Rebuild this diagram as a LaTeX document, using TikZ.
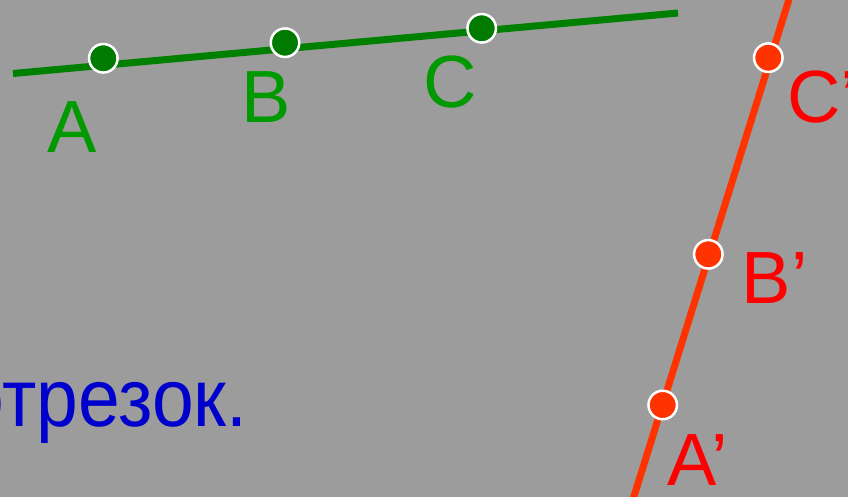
\documentclass[tikz,border=0pt]{standalone}
\usepackage{fontspec}
\setmainfont{Liberation Sans}
\newfontfamily\narrowsans[FakeStretch=0.915]{Liberation Sans}
\definecolor{bggray}{HTML}{9C9C9C}
\definecolor{gline}{HTML}{008000}
\definecolor{gpt}{HTML}{007A00}
\definecolor{gtxt}{HTML}{009900}
\definecolor{rline}{HTML}{FF3300}
\definecolor{rtxt}{HTML}{FF0000}
\definecolor{btxt}{HTML}{0000CC}
\begin{document}
\begin{tikzpicture}[x=1pt,y=-1pt,
  ptg/.style={circle,draw=white,line width=2.5pt,fill=gpt,minimum size=28.5pt,inner sep=0pt},
  ptr/.style={circle,draw=white,line width=2.5pt,fill=rline,minimum size=28.5pt,inner sep=0pt},
  lblg/.style={anchor=base west,inner sep=0pt,text=gtxt,font=\fontsize{74}{74}\selectfont},
  lblr/.style={anchor=base west,inner sep=0pt,text=rtxt,font=\fontsize{74}{74}\selectfont},
  gl/.style={draw=gline,line width=7pt},
  rl/.style={draw=rline,line width=7pt}]
\useasboundingbox (0,0) rectangle (848,497);
\clip (0,0) rectangle (848,497);
\fill[bggray] (0,0) rectangle (848,497);
% green line
\coordinate (g1) at (13,73.5);
\coordinate (g2) at (678,13);
\draw[gl] (g1) -- (g2);
% red line
\coordinate (r1) at (632.8,500);
\coordinate (r2) at (789.7,-3);
\draw[rl] (r1) -- (r2);
% points
\node[ptg] (A) at (103.3,58.3) {};
\node[ptg] (B) at (285,42.7) {};
\node[ptg] (C) at (481.7,28.3) {};
\node[ptr] (A1) at (662.7,405) {};
\node[ptr] (B1) at (708.3,254.3) {};
\node[ptr] (C1) at (768.3,57.7) {};
% labels
\node[lblg] (lA) at (47,152.5) {A};
\node[lblg] (lB) at (241.6,123) {B};
\node[lblg] (lC) at (423,107.5) {C};
\node[lblr] (lA1) at (667,485) {A’};
\node[lblr] (lB1) at (741.6,303) {B’};
\node[lblr] (lC1) at (786.8,123) {C’};
% text
\node[anchor=base east,inner sep=0pt,text=btxt,font=\narrowsans\fontsize{82}{82}\selectfont] (txt) at (247.8,426.5) {отрезок.};
\end{tikzpicture}
\end{document}
